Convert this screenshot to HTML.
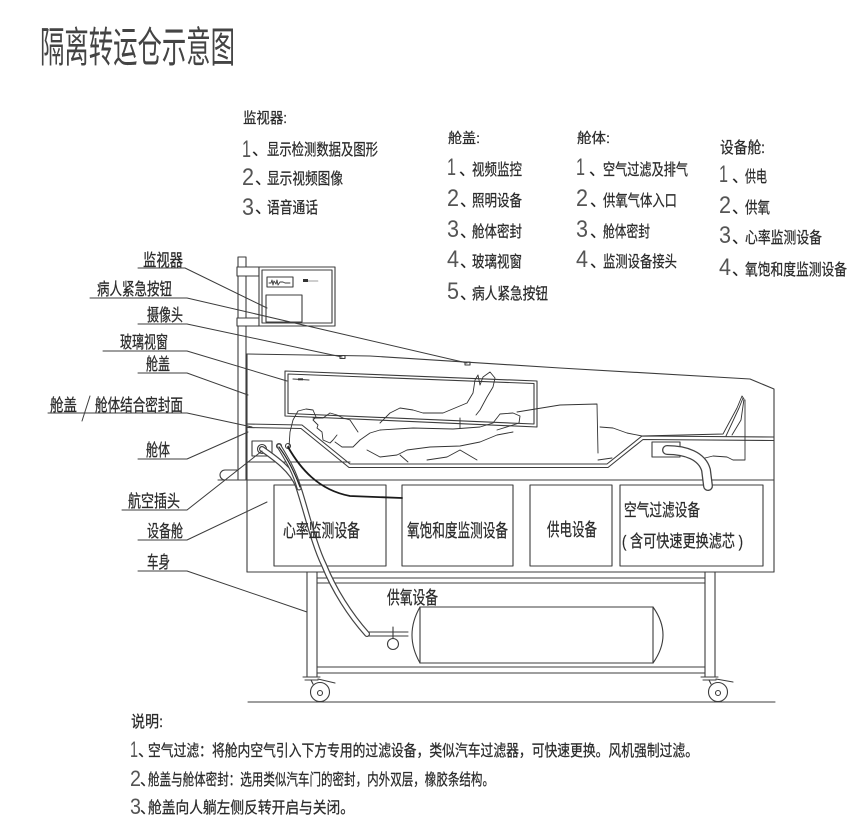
<!DOCTYPE html>
<html><head><meta charset="utf-8">
<style>
html,body{margin:0;padding:0;background:#fff;}
svg{display:block;}
text{font-family:"Liberation Sans","Noto Sans CJK SC",sans-serif;fill:#2b2b2b;stroke:#2b2b2b;stroke-width:0.25;}
.d{font-family:"Liberation Sans",sans-serif;fill:#555;stroke:none;}
.t{fill:#444;stroke:none;}
</style></head><body>
<svg width="854" height="824" viewBox="0 0 854 824" xmlns="http://www.w3.org/2000/svg">
<g fill="none" stroke="#3c3c3c" stroke-width="1.1" stroke-linejoin="round" stroke-linecap="round">
  <!-- pole -->
  <rect x="238" y="257" width="8" height="223"/>
  <rect x="237" y="267" width="22" height="9" fill="#fff"/>
  <rect x="237" y="318" width="22" height="8" fill="#fff"/>
  <!-- monitor -->
  <rect x="259" y="267" width="76" height="59" fill="#fff"/>
  <rect x="262" y="270" width="70" height="53"/>
  <rect x="267" y="277" width="26" height="10"/>
  <polyline points="269,283 271,283 272,280 273,285 274,281 276,284 277,280 278,285 280,282 283,282 285,283 290,283" stroke-width="0.9"/>
  <rect x="303" y="279" width="5" height="3" fill="#333" stroke="none"/>
  <line x1="308" y1="281" x2="318" y2="281" stroke-width="0.6"/>
  <rect x="266" y="295" width="36" height="27"/>

  <!-- lid top / body outline -->
  <polyline points="247,354 370,356 560,368 750,379 774,389 774,572"/>
  <line x1="247" y1="354" x2="247" y2="572"/>
  <!-- camera & button marks -->
  <rect x="340" y="355.5" width="5" height="3"/>
  <rect x="465" y="362" width="5" height="3"/>

  <!-- glass window -->
  <polygon points="285,371 537,381 537,427 285,416"/>
  <polygon points="288,374 534,383.5 534,424 288,413.5"/>
  <line x1="293" y1="379" x2="309" y2="380"/>
  <rect x="298" y="378.3" width="5" height="2" fill="#333" stroke="none"/>

  <!-- seal / bed lines -->
  <polyline points="247,424 302,425 350,464 607,464 642,436 774,437"/>
  <polyline points="247,427.5 301,428.5 349,467.5 608,467.5 643,439.5 774,440.5"/>
  <line x1="247" y1="462" x2="350" y2="462"/>
  <!-- compartment -->
  <path d="M237,470 H225 A5,5 0 0 0 225,480 H237"/>
  <line x1="218" y1="480" x2="774" y2="480"/>
  <line x1="247" y1="572" x2="774" y2="572"/>
  <rect x="274" y="485" width="112" height="81"/>
  <rect x="402" y="485" width="111" height="81"/>
  <rect x="530" y="485" width="82" height="81"/>
  <rect x="620" y="485" width="143" height="81"/>

  <!-- connectors -->
  <rect x="252" y="441" width="20" height="15"/>
  <circle cx="262" cy="449" r="4.5"/>
  <circle cx="262" cy="449" r="2"/>
  <circle cx="279" cy="446" r="2.5"/>
  <circle cx="288" cy="446" r="2.5"/>
  <rect x="652" y="442" width="28" height="15"/>

  <!-- chassis -->
  <line x1="307" y1="572" x2="307" y2="677"/>
  <line x1="317" y1="572" x2="317" y2="677"/>
  <line x1="705" y1="572" x2="705" y2="677"/>
  <line x1="715" y1="572" x2="715" y2="677"/>
  <line x1="317" y1="578" x2="705" y2="578"/>
  <line x1="317" y1="583" x2="705" y2="583"/>
  <line x1="317" y1="667" x2="705" y2="667"/>
  <line x1="317" y1="673" x2="705" y2="673"/>
  <!-- casters -->
  <line x1="303" y1="677" x2="320" y2="677"/>
  <line x1="305" y1="680" x2="318" y2="680"/>
  <line x1="318" y1="679" x2="335" y2="683"/>
  <line x1="311" y1="680" x2="313" y2="684"/>
  <circle cx="320" cy="692" r="9.5"/>
  <circle cx="320" cy="693" r="2.5"/>
  <line x1="701" y1="677" x2="718" y2="677"/>
  <line x1="703" y1="680" x2="716" y2="680"/>
  <line x1="716" y1="679" x2="733" y2="682"/>
  <line x1="709" y1="680" x2="711" y2="684"/>
  <circle cx="718" cy="692" r="9.5"/>
  <circle cx="718" cy="693" r="2.5"/>
  <line x1="248" y1="702" x2="775" y2="702"/>

  <!-- oxygen tank -->
  <line x1="420" y1="607" x2="653" y2="607"/>
  <line x1="420" y1="663" x2="653" y2="663"/>
  <line x1="420" y1="607" x2="420" y2="663"/>
  <line x1="653" y1="607" x2="653" y2="663"/>
  <path d="M420,607 Q404,635 420,663"/>
  <path d="M653,607 Q673,635 653,663"/>
  <line x1="367" y1="632" x2="408" y2="632"/>
  <line x1="367" y1="636" x2="408" y2="636"/>
  <line x1="393" y1="627" x2="393" y2="638"/>
  <circle cx="393" cy="644" r="5.5"/>

  <!-- hoses -->
  <path d="M262,449 C275,458 292,470 298,486 C306,510 314,545 324,565 C334,590 350,615 367,634" stroke="#444" stroke-width="6"/>
  <path d="M262,449 C275,458 292,470 298,486 C306,510 314,545 324,565 C334,590 350,615 367,634" stroke="#fff" stroke-width="3.6"/>
  <path d="M279,446 C286,458 294,470 299,488" stroke="#444" stroke-width="5"/>
  <path d="M279,446 C286,458 294,470 299,488" stroke="#fff" stroke-width="2.8"/>
  <path d="M279,447 Q291,463 300,487" stroke="#222" stroke-width="1.2"/>
  <path d="M288,447 C300,468 318,490 350,496 L402,498" stroke="#1a1a1a" stroke-width="1.8"/>
  <path d="M667,450 C686,450 702,456 706,470 L708,486" stroke="#444" stroke-width="10"/>
  <path d="M667,450 C686,450 702,456 706,470 L708,486" stroke="#fff" stroke-width="7.4"/>

  <!-- figure -->
  <g stroke-width="0.9" stroke="#333">
    <path d="M289,447 L290,432 L293,420 L298,411 L306,409 L313,410 L316,417 L313,420 L318,425 L317,428 L322,432 L323,440 L330,443 L333,440 L337,435"/>
    <path d="M335,442 L342,447 L353,447 L360,440"/>
    <path d="M313,418 L323,418 L330,413 L337,415 L343,418 L350,420 L358,432"/>
    <path d="M380,423 L390,413 L400,408 L413,410 L423,413 L443,413 L467,403 L473,393 L475,380 L478,375 L480,385 L483,377 L490,372 L495,378 L493,387 L487,397 L480,410 L476,415"/>
    <path d="M360,440 L370,433 L380,430 L413,428 L453,429 L480,427 L493,423 L500,414 L513,413 L520,416 L519,423 L513,425 L497,430"/>
    <path d="M367,450 L380,457 L397,455 L407,450 L430,447 L460,446 L480,442 L497,435 L513,432"/>
    <path d="M400,455 L408,462"/>
    <path d="M427,460 L447,457 L460,450 L477,460"/>
    <path d="M460,418 L460,428"/>
    <path d="M517,412 L560,405 L597,404 L598,453"/>
    <path d="M600,427 L613,428 L627,433 L642,436 L723,434 L737,408 L742,396 L744,399 L741,420 L732,435"/>
    <path d="M726,436 L739,408 L743,398"/>
    <path d="M745,400 L745,460 L733,460 L727,457 L713,456 L705,458"/>
    <path d="M598,460 L612,458"/>
  </g>

  <!-- label underlines & leaders -->
  <g stroke-width="1">
    <polyline points="138,268 185,268 267,308"/>
    <polyline points="90,298 187,298 467,363"/>
    <polyline points="138,324 187,324 342,357"/>
    <polyline points="103,351 187,351 287,381"/>
    <polyline points="138,373 187,373 248,395"/>
    <polyline points="48,413 187,413 252,427"/>
    <polyline points="138,459 187,459 248,432"/>
    <polyline points="122,510 187,510 262,451"/>
    <polyline points="138,540 187,540 267,502"/>
    <polyline points="138,571 187,571 307,612"/>
    <line x1="90" y1="396" x2="82" y2="421"/>
  </g>
</g>

<!-- Title -->
<text class="t" x="40" y="62" font-size="42" textLength="195" lengthAdjust="spacingAndGlyphs">隔离转运仓示意图</text>

<!-- Monitor block -->
<text x="243" y="123" font-size="15" textLength="44" lengthAdjust="spacingAndGlyphs">监视器:</text>
<text class="d" x="242" y="157" font-size="24" textLength="9" lengthAdjust="spacingAndGlyphs">1</text>
<text x="252" y="155" font-size="16">、</text>
<text x="267" y="155" font-size="16" textLength="111" lengthAdjust="spacingAndGlyphs">显示检测数据及图形</text>
<text class="d" x="242" y="185" font-size="24" textLength="12" lengthAdjust="spacingAndGlyphs">2</text>
<text x="255" y="184" font-size="16">、</text>
<text x="267" y="184" font-size="16" textLength="76" lengthAdjust="spacingAndGlyphs">显示视频图像</text>
<text class="d" x="242" y="215" font-size="24" textLength="12" lengthAdjust="spacingAndGlyphs">3</text>
<text x="255" y="213" font-size="16">、</text>
<text x="267" y="213" font-size="16" textLength="51" lengthAdjust="spacingAndGlyphs">语音通话</text>

<!-- Lid block -->
<text x="448" y="143" font-size="14" textLength="32" lengthAdjust="spacingAndGlyphs">舱盖:</text>
<text class="d" x="447" y="175" font-size="24" textLength="9" lengthAdjust="spacingAndGlyphs">1</text>
<text x="459" y="175" font-size="16">、</text>
<text x="472" y="175" font-size="16" textLength="50" lengthAdjust="spacingAndGlyphs">视频监控</text>
<text class="d" x="447" y="206" font-size="24" textLength="12" lengthAdjust="spacingAndGlyphs">2</text>
<text x="460" y="206" font-size="16">、</text>
<text x="472" y="206" font-size="16" textLength="50" lengthAdjust="spacingAndGlyphs">照明设备</text>
<text class="d" x="447" y="237" font-size="24" textLength="12" lengthAdjust="spacingAndGlyphs">3</text>
<text x="460" y="237" font-size="16">、</text>
<text x="472" y="237" font-size="16" textLength="50" lengthAdjust="spacingAndGlyphs">舱体密封</text>
<text class="d" x="447" y="267" font-size="24" textLength="12" lengthAdjust="spacingAndGlyphs">4</text>
<text x="460" y="267" font-size="16">、</text>
<text x="472" y="267" font-size="16" textLength="50" lengthAdjust="spacingAndGlyphs">玻璃视窗</text>
<text class="d" x="447" y="299" font-size="24" textLength="12" lengthAdjust="spacingAndGlyphs">5</text>
<text x="460" y="299" font-size="16">、</text>
<text x="472" y="299" font-size="16" textLength="76" lengthAdjust="spacingAndGlyphs">病人紧急按钮</text>

<!-- Body block -->
<text x="577" y="143" font-size="14" textLength="33" lengthAdjust="spacingAndGlyphs">舱体:</text>
<text class="d" x="576" y="175" font-size="24" textLength="9" lengthAdjust="spacingAndGlyphs">1</text>
<text x="589" y="175" font-size="16">、</text>
<text x="603" y="175" font-size="16" textLength="85" lengthAdjust="spacingAndGlyphs">空气过滤及排气</text>
<text class="d" x="576" y="206" font-size="24" textLength="12" lengthAdjust="spacingAndGlyphs">2</text>
<text x="590" y="206" font-size="16">、</text>
<text x="603" y="206" font-size="16" textLength="74" lengthAdjust="spacingAndGlyphs">供氧气体入口</text>
<text class="d" x="576" y="237" font-size="24" textLength="12" lengthAdjust="spacingAndGlyphs">3</text>
<text x="590" y="237" font-size="16">、</text>
<text x="603" y="237" font-size="16" textLength="47" lengthAdjust="spacingAndGlyphs">舱体密封</text>
<text class="d" x="576" y="267" font-size="24" textLength="12" lengthAdjust="spacingAndGlyphs">4</text>
<text x="590" y="267" font-size="16">、</text>
<text x="603" y="267" font-size="16" textLength="74" lengthAdjust="spacingAndGlyphs">监测设备接头</text>

<!-- Equipment block -->
<text x="720" y="153" font-size="16" textLength="45" lengthAdjust="spacingAndGlyphs">设备舱:</text>
<text class="d" x="719" y="182" font-size="24" textLength="9" lengthAdjust="spacingAndGlyphs">1</text>
<text x="732" y="182" font-size="16">、</text>
<text x="745" y="182" font-size="16" textLength="22" lengthAdjust="spacingAndGlyphs">供电</text>
<text class="d" x="719" y="213" font-size="24" textLength="12" lengthAdjust="spacingAndGlyphs">2</text>
<text x="732" y="213" font-size="16">、</text>
<text x="745" y="213" font-size="16" textLength="25" lengthAdjust="spacingAndGlyphs">供氧</text>
<text class="d" x="719" y="243" font-size="24" textLength="12" lengthAdjust="spacingAndGlyphs">3</text>
<text x="732" y="243" font-size="16">、</text>
<text x="745" y="243" font-size="16" textLength="77" lengthAdjust="spacingAndGlyphs">心率监测设备</text>
<text class="d" x="719" y="275" font-size="24" textLength="12" lengthAdjust="spacingAndGlyphs">4</text>
<text x="732" y="275" font-size="16">、</text>
<text x="745" y="275" font-size="16" textLength="102" lengthAdjust="spacingAndGlyphs">氧饱和度监测设备</text>

<!-- Left labels -->
<text x="143" y="266" font-size="17" textLength="40" lengthAdjust="spacingAndGlyphs">监视器</text>
<text x="97" y="295" font-size="17" textLength="75" lengthAdjust="spacingAndGlyphs">病人紧急按钮</text>
<text x="147" y="321" font-size="17" textLength="36" lengthAdjust="spacingAndGlyphs">摄像头</text>
<text x="120" y="348" font-size="17" textLength="48" lengthAdjust="spacingAndGlyphs">玻璃视窗</text>
<text x="146" y="370" font-size="17" textLength="24" lengthAdjust="spacingAndGlyphs">舱盖</text>
<text x="50" y="411" font-size="17" textLength="27" lengthAdjust="spacingAndGlyphs">舱盖</text>
<text x="95" y="411" font-size="17" textLength="88" lengthAdjust="spacingAndGlyphs">舱体结合密封面</text>
<text x="146" y="456" font-size="17" textLength="24" lengthAdjust="spacingAndGlyphs">舱体</text>
<text x="128" y="507" font-size="17" textLength="52" lengthAdjust="spacingAndGlyphs">航空插头</text>
<text x="147" y="537" font-size="17" textLength="36" lengthAdjust="spacingAndGlyphs">设备舱</text>
<text x="147" y="568" font-size="17" textLength="23" lengthAdjust="spacingAndGlyphs">车身</text>

<!-- Equipment labels -->
<text x="283" y="537" font-size="18" textLength="77" lengthAdjust="spacingAndGlyphs">心率监测设备</text>
<text x="407" y="537" font-size="18" textLength="101" lengthAdjust="spacingAndGlyphs">氧饱和度监测设备</text>
<text x="547" y="536" font-size="18" textLength="50" lengthAdjust="spacingAndGlyphs">供电设备</text>
<text x="624" y="516" font-size="17" textLength="76" lengthAdjust="spacingAndGlyphs">空气过滤设备</text>
<text x="622" y="547" font-size="17" textLength="121" lengthAdjust="spacingAndGlyphs">( 含可快速更换滤芯 )</text>
<text x="387" y="604" font-size="18" textLength="51" lengthAdjust="spacingAndGlyphs">供氧设备</text>

<!-- Notes -->
<text x="131" y="727" font-size="16" textLength="32" lengthAdjust="spacingAndGlyphs">说明:</text>
<text class="d" x="130" y="757" font-size="22" textLength="8" lengthAdjust="spacingAndGlyphs">1</text>
<text x="138" y="756" font-size="15">、</text>
<text x="148" y="756" font-size="16" textLength="550" lengthAdjust="spacingAndGlyphs">空气过滤：将舱内空气引入下方专用的过滤设备，类似汽车过滤器，可快速更换。风机强制过滤。</text>
<text class="d" x="130" y="786" font-size="22" textLength="11" lengthAdjust="spacingAndGlyphs">2</text>
<text x="140" y="785" font-size="15">、</text>
<text x="148" y="785" font-size="16" textLength="346" lengthAdjust="spacingAndGlyphs">舱盖与舱体密封：选用类似汽车门的密封，内外双层，橡胶条结构。</text>
<text class="d" x="130" y="814" font-size="22" textLength="11" lengthAdjust="spacingAndGlyphs">3</text>
<text x="140" y="813" font-size="15">、</text>
<text x="148" y="813" font-size="16" textLength="206" lengthAdjust="spacingAndGlyphs">舱盖向人躺左侧反转开启与关闭。</text>
</svg>
</body></html>
